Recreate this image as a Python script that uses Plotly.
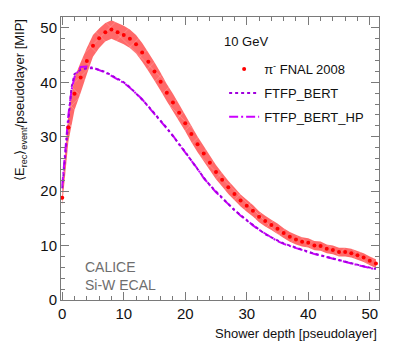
import plotly.graph_objects as go

# pi- FNAL 2008 data, one value per pseudolayer
layers = list(range(52))
data_mip = [18.8, 31.7, 37.9, 40.9, 43.9, 46.7, 48.1, 49.2, 49.7, 49.2,
            48.7, 48.0, 47.0, 45.5, 43.8, 42.0, 40.1, 38.1, 36.3, 34.4,
            32.5, 30.5, 28.6, 26.9, 25.2, 23.5, 22.1, 20.7, 19.5, 18.3,
            17.3, 16.4, 15.3, 14.5, 13.8, 13.1, 12.3, 11.6, 11.1, 10.7,
            10.5, 10.0, 9.9, 9.4, 9.2, 8.8, 8.8, 8.6, 8.2, 7.8, 7.2, 6.7]
data_err = [1.4, 2.6, 3.0, 2.8, 2.4, 2.0, 1.8, 1.7, 1.7, 1.7,
            1.7, 1.7, 1.7, 1.7, 1.7, 1.7, 1.65, 1.6, 1.6, 1.55,
            1.5, 1.5, 1.45, 1.4, 1.35, 1.3, 1.25, 1.2, 1.15, 1.1,
            1.1, 1.05, 1.0, 1.0, 0.95, 0.95, 0.9, 0.9, 0.9, 0.85,
            0.85, 0.85, 0.85, 0.8, 0.8, 0.8, 0.8, 0.8, 0.8, 0.8, 0.8, 0.8]

# simulation curves
sim_layers = [0, 0.5, 1, 1.5, 2] + list(range(3, 52))
ftfp_bert = [20.5, 26.5, 32.5, 39.0, 41.5, 42.3, 42.6, 42.6, 42.3, 41.9,
             41.3, 40.7, 40.0, 39.1, 38.0, 36.8, 35.6, 34.3, 33.0, 31.6,
             30.1, 28.7, 27.2, 25.6, 24.0, 22.5, 21.1, 19.9, 18.8, 17.7,
             16.5, 15.6, 14.6, 13.8, 13.0, 12.1, 11.5, 10.9, 10.4, 10.0,
             9.6, 9.2, 8.85, 8.5, 8.2, 7.9, 7.6, 7.3, 7.0, 6.75,
             6.5, 6.2, 5.95, 5.7]
ftfp_bert_hp = [21.0, 28.0, 34.0, 38.5, 41.0, 42.8, 42.9, 42.7, 42.3, 41.8,
                41.2, 40.6, 39.9, 39.0, 38.0, 36.9, 35.5, 34.2, 32.9, 31.5,
                30.2, 28.6, 27.1, 25.7, 24.1, 22.4, 21.0, 19.8, 18.7, 17.6,
                16.6, 15.5, 14.7, 13.7, 12.9, 12.2, 11.4, 10.8, 10.3, 9.9,
                9.5, 9.1, 8.8, 8.45, 8.15, 7.85, 7.55, 7.25, 7.0, 6.7,
                6.45, 6.15, 5.9, 5.6]

upper = [v + e for v, e in zip(data_mip, data_err)]
lower = [v - e for v, e in zip(data_mip, data_err)]

font = "Liberation Sans, Arial, sans-serif"
frame = "#7a7a7a"

fig = go.Figure()

# error band
fig.add_trace(go.Scatter(
    x=layers + layers[::-1], y=upper + lower[::-1],
    fill="toself", mode="none", fillcolor="#ff6a6a",
    fillpattern=dict(shape="x", fgcolor="rgba(255,255,255,0.6)",
                     bgcolor="#ff6a6a", size=14, solidity=0.1),
    showlegend=False, hoverinfo="skip"))

fig.add_trace(go.Scatter(
    x=sim_layers, y=ftfp_bert_hp, mode="lines", name="FTFP_BERT_HP",
    line=dict(color="#cc00ff", width=2, dash="9px,3px,2px,3px"),
    legendgroup="c", legendrank=3))

fig.add_trace(go.Scatter(
    x=sim_layers, y=ftfp_bert, mode="lines", name="FTFP_BERT",
    line=dict(color="#a000dd", width=2, dash="dot"),
    legendgroup="b", legendrank=2))

fig.add_trace(go.Scatter(
    x=layers, y=data_mip, mode="markers", name="π<sup>-</sup> FNAL 2008",
    marker=dict(color="#ff0000", size=4),
    legendgroup="a", legendrank=1))

axis_common = dict(
    showline=True, linecolor=frame, linewidth=1, mirror="allticks",
    ticks="inside", ticklen=8, tickcolor=frame, tickwidth=1,
    showgrid=False, zeroline=False,
    tickfont=dict(family=font, size=15, color="#111"),
)

fig.update_xaxes(range=[-0.2, 51.5], dtick=10, tick0=0,
                 minor=dict(dtick=2, ticks="inside", ticklen=4, tickcolor=frame),
                 **axis_common)
fig.update_yaxes(range=[0, 52], dtick=10, tick0=0,
                 minor=dict(dtick=2, ticks="inside", ticklen=4, tickcolor=frame),
                 **axis_common)

fig.add_annotation(
    text="⟨E<sub>rec</sub>⟩<sub>event</sub>/pseudolayer [MIP]",
    xref="paper", yref="paper", x=-0.129, y=1.0, xanchor="center", yanchor="top",
    textangle=-90, showarrow=False, font=dict(family=font, size=13, color="#111"))
fig.add_annotation(
    text="Shower depth [pseudolayer]",
    xref="paper", yref="paper", x=1.0, y=-0.117, xanchor="right", yanchor="middle",
    showarrow=False, font=dict(family=font, size=13, color="#111"))
fig.add_annotation(
    text="CALICE<br>Si-W ECAL", align="left",
    xref="paper", yref="paper", x=0.069, y=0.085, xanchor="left", yanchor="middle",
    showarrow=False, font=dict(family=font, size=14, color="#6e6e6e"))
fig.add_annotation(
    text="10 GeV",
    xref="paper", yref="paper", x=0.506, y=0.915, xanchor="left", yanchor="middle",
    showarrow=False, font=dict(family=font, size=13, color="#111"))

# the page body adds 8px around the figure, so the figure is 16px smaller
fig.update_layout(
    width=383, height=333,
    margin=dict(l=53, r=12, t=9, b=41),
    plot_bgcolor="white", paper_bgcolor="white",
    font=dict(family=font, color="#111"),
    legend=dict(x=0.513, y=0.869, xanchor="left", yanchor="top",
                font=dict(size=13), tracegroupgap=4,
                bgcolor="rgba(0,0,0,0)", traceorder="grouped"),
)

fig.write_html("out.html")
